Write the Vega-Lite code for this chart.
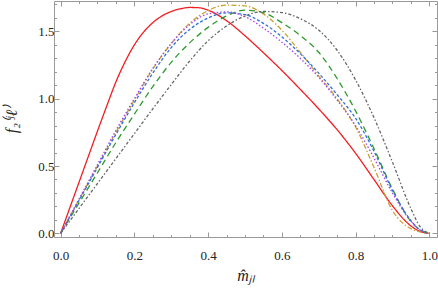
{
  "$schema": "https://vega.github.io/schema/vega-lite/v6.json",
  "width": 383,
  "height": 236,
  "autosize": {"type": "none"},
  "padding": {"left": 54, "top": 1, "right": 1, "bottom": 52},
  "background": "white",
  "config": {
    "view": {"stroke": null},
    "axis": {
      "labelFont": "Liberation Serif",
      "labelFontSize": 13,
      "labelColor": "#222",
      "titleFont": "Liberation Serif",
      "titleFontStyle": "italic",
      "titleFontWeight": "normal",
      "titleFontSize": 16,
      "titleColor": "#222",
      "domainColor": "#999",
      "tickColor": "#999",
      "grid": false
    }
  },
  "datasets": {
    "curves": [
      {"s": "A", "x": 0, "y": 0}, {"s": "A", "x": 0.025, "y": 0.19}, {"s": "A", "x": 0.05, "y": 0.38}, {"s": "A", "x": 0.075, "y": 0.57}, {"s": "A", "x": 0.1, "y": 0.76}, {"s": "A", "x": 0.125, "y": 0.945}, {"s": "A", "x": 0.15, "y": 1.125}, {"s": "A", "x": 0.175, "y": 1.275}, {"s": "A", "x": 0.2, "y": 1.4}, {"s": "A", "x": 0.225, "y": 1.495}, {"s": "A", "x": 0.25, "y": 1.565}, {"s": "A", "x": 0.275, "y": 1.615}, {"s": "A", "x": 0.3, "y": 1.648}, {"s": "A", "x": 0.325, "y": 1.668}, {"s": "A", "x": 0.35, "y": 1.678}, {"s": "A", "x": 0.375, "y": 1.676}, {"s": "A", "x": 0.4, "y": 1.658}, {"s": "A", "x": 0.45, "y": 1.58}, {"s": "A", "x": 0.5, "y": 1.468}, {"s": "A", "x": 0.55, "y": 1.342}, {"s": "A", "x": 0.6, "y": 1.21}, {"s": "A", "x": 0.65, "y": 1.07}, {"s": "A", "x": 0.7, "y": 0.925}, {"s": "A", "x": 0.75, "y": 0.77}, {"s": "A", "x": 0.8, "y": 0.595}, {"s": "A", "x": 0.85, "y": 0.4}, {"s": "A", "x": 0.9, "y": 0.205}, {"s": "A", "x": 0.95, "y": 0.055}, {"s": "A", "x": 0.975, "y": 0.014}, {"s": "A", "x": 1, "y": 0},

      {"s": "B", "x": 0, "y": 0}, {"s": "B", "x": 0.05, "y": 0.25}, {"s": "B", "x": 0.1, "y": 0.5}, {"s": "B", "x": 0.15, "y": 0.75}, {"s": "B", "x": 0.2, "y": 0.99}, {"s": "B", "x": 0.25, "y": 1.22}, {"s": "B", "x": 0.3, "y": 1.41}, {"s": "B", "x": 0.35, "y": 1.56}, {"s": "B", "x": 0.4, "y": 1.655}, {"s": "B", "x": 0.45, "y": 1.695}, {"s": "B", "x": 0.5, "y": 1.69}, {"s": "B", "x": 0.55, "y": 1.63}, {"s": "B", "x": 0.6, "y": 1.51}, {"s": "B", "x": 0.65, "y": 1.345}, {"s": "B", "x": 0.7, "y": 1.17}, {"s": "B", "x": 0.75, "y": 1.0}, {"s": "B", "x": 0.8, "y": 0.79}, {"s": "B", "x": 0.85, "y": 0.49}, {"s": "B", "x": 0.9, "y": 0.17}, {"s": "B", "x": 0.95, "y": 0.035}, {"s": "B", "x": 0.975, "y": 0.01}, {"s": "B", "x": 1, "y": 0},

      {"s": "C", "x": 0, "y": 0}, {"s": "C", "x": 0.05, "y": 0.225}, {"s": "C", "x": 0.1, "y": 0.45}, {"s": "C", "x": 0.15, "y": 0.675}, {"s": "C", "x": 0.2, "y": 0.885}, {"s": "C", "x": 0.25, "y": 1.09}, {"s": "C", "x": 0.3, "y": 1.27}, {"s": "C", "x": 0.35, "y": 1.415}, {"s": "C", "x": 0.4, "y": 1.53}, {"s": "C", "x": 0.45, "y": 1.615}, {"s": "C", "x": 0.5, "y": 1.658}, {"s": "C", "x": 0.55, "y": 1.64}, {"s": "C", "x": 0.6, "y": 1.565}, {"s": "C", "x": 0.65, "y": 1.47}, {"s": "C", "x": 0.7, "y": 1.345}, {"s": "C", "x": 0.75, "y": 1.15}, {"s": "C", "x": 0.8, "y": 0.91}, {"s": "C", "x": 0.85, "y": 0.63}, {"s": "C", "x": 0.9, "y": 0.33}, {"s": "C", "x": 0.95, "y": 0.09}, {"s": "C", "x": 0.975, "y": 0.025}, {"s": "C", "x": 1, "y": 0},

      {"s": "D", "x": 0, "y": 0}, {"s": "D", "x": 0.05, "y": 0.245}, {"s": "D", "x": 0.1, "y": 0.49}, {"s": "D", "x": 0.15, "y": 0.735}, {"s": "D", "x": 0.2, "y": 0.97}, {"s": "D", "x": 0.25, "y": 1.19}, {"s": "D", "x": 0.3, "y": 1.38}, {"s": "D", "x": 0.35, "y": 1.515}, {"s": "D", "x": 0.4, "y": 1.6}, {"s": "D", "x": 0.45, "y": 1.638}, {"s": "D", "x": 0.5, "y": 1.625}, {"s": "D", "x": 0.55, "y": 1.56}, {"s": "D", "x": 0.6, "y": 1.46}, {"s": "D", "x": 0.65, "y": 1.335}, {"s": "D", "x": 0.7, "y": 1.19}, {"s": "D", "x": 0.75, "y": 1.03}, {"s": "D", "x": 0.8, "y": 0.855}, {"s": "D", "x": 0.85, "y": 0.61}, {"s": "D", "x": 0.9, "y": 0.32}, {"s": "D", "x": 0.95, "y": 0.095}, {"s": "D", "x": 0.975, "y": 0.025}, {"s": "D", "x": 1, "y": 0},

      {"s": "E", "x": 0, "y": 0}, {"s": "E", "x": 0.05, "y": 0.255}, {"s": "E", "x": 0.1, "y": 0.51}, {"s": "E", "x": 0.15, "y": 0.765}, {"s": "E", "x": 0.2, "y": 1.0}, {"s": "E", "x": 0.25, "y": 1.225}, {"s": "E", "x": 0.3, "y": 1.41}, {"s": "E", "x": 0.35, "y": 1.55}, {"s": "E", "x": 0.4, "y": 1.63}, {"s": "E", "x": 0.45, "y": 1.645}, {"s": "E", "x": 0.5, "y": 1.61}, {"s": "E", "x": 0.55, "y": 1.525}, {"s": "E", "x": 0.6, "y": 1.42}, {"s": "E", "x": 0.65, "y": 1.3}, {"s": "E", "x": 0.7, "y": 1.16}, {"s": "E", "x": 0.75, "y": 0.99}, {"s": "E", "x": 0.8, "y": 0.8}, {"s": "E", "x": 0.85, "y": 0.56}, {"s": "E", "x": 0.9, "y": 0.3}, {"s": "E", "x": 0.95, "y": 0.09}, {"s": "E", "x": 0.975, "y": 0.025}, {"s": "E", "x": 1, "y": 0},

      {"s": "F", "x": 0, "y": 0}, {"s": "F", "x": 0.05, "y": 0.185}, {"s": "F", "x": 0.1, "y": 0.37}, {"s": "F", "x": 0.15, "y": 0.555}, {"s": "F", "x": 0.2, "y": 0.74}, {"s": "F", "x": 0.25, "y": 0.925}, {"s": "F", "x": 0.3, "y": 1.105}, {"s": "F", "x": 0.35, "y": 1.28}, {"s": "F", "x": 0.4, "y": 1.43}, {"s": "F", "x": 0.45, "y": 1.54}, {"s": "F", "x": 0.5, "y": 1.615}, {"s": "F", "x": 0.55, "y": 1.648}, {"s": "F", "x": 0.6, "y": 1.64}, {"s": "F", "x": 0.65, "y": 1.595}, {"s": "F", "x": 0.7, "y": 1.51}, {"s": "F", "x": 0.75, "y": 1.36}, {"s": "F", "x": 0.8, "y": 1.14}, {"s": "F", "x": 0.85, "y": 0.86}, {"s": "F", "x": 0.9, "y": 0.53}, {"s": "F", "x": 0.95, "y": 0.185}, {"s": "F", "x": 0.975, "y": 0.05}, {"s": "F", "x": 1, "y": 0}
    ]
  },
  "data": {"name": "curves"},
  "resolve": {"axis": {"x": "independent", "y": "independent"}},
  "layer": [
    {
      "mark": {"type": "line", "interpolate": "monotone", "strokeWidth": 1.3},
      "encoding": {
        "x": {
          "field": "x", "type": "quantitative",
          "scale": {"domain": [-0.018, 1.021], "nice": false, "zero": false},
          "axis": {
            "orient": "bottom",
            "title": "m̂ⱼₗ",
            "titlePadding": 5,
            "values": [0, 0.05, 0.1, 0.15, 0.2, 0.25, 0.3, 0.35, 0.4, 0.45, 0.5, 0.55, 0.6, 0.65, 0.7, 0.75, 0.8, 0.85, 0.9, 0.95, 1.0],
            "labelExpr": "abs(datum.value*5 - round(datum.value*5)) < 0.001 ? format(datum.value, '.1f') : ''",
            "tickSize": {"condition": {"test": "abs(datum.value*5 - round(datum.value*5)) < 0.001", "value": -5}, "value": -2.5},
            "labelPadding": 14,
            "labelBaseline": "line-top",
            "labelLineHeight": 18,
            "labelFlush": false
          }
        },
        "y": {
          "field": "y", "type": "quantitative",
          "scale": {"domain": [-0.0275, 1.726], "nice": false, "zero": false},
          "axis": {
            "orient": "left",
            "title": "f₂⁽ʲℓ⁾",
            "titlePadding": 18,
            "values": [0, 0.1, 0.2, 0.3, 0.4, 0.5, 0.6, 0.7, 0.8, 0.9, 1.0, 1.1, 1.2, 1.3, 1.4, 1.5, 1.6, 1.7],
            "labelExpr": "abs(datum.value*2 - round(datum.value*2)) < 0.001 ? format(datum.value, '.1f') : ''",
            "tickSize": {"condition": {"test": "abs(datum.value*2 - round(datum.value*2)) < 0.001", "value": -5}, "value": -2.5},
            "labelPadding": 5,
            "labelFlush": false
          }
        },
        "color": {
          "field": "s", "type": "nominal", "legend": null,
          "scale": {"domain": ["A", "B", "C", "D", "E", "F"], "range": ["#f01e23", "#c9a030", "#2e9a2e", "#2f6fd8", "#a446e6", "#666666"]}
        },
        "strokeDash": {
          "field": "s", "type": "nominal", "legend": null,
          "scale": {"domain": ["A", "B", "C", "D", "E", "F"], "range": [[1, 0], [5, 2, 1.5, 2], [6, 4], [3, 2], [1.5, 2], [3, 2, 1.5, 2]]}
        },
        "detail": {"field": "s"}
      }
    },
    {
      "mark": {"type": "line", "opacity": 0},
      "encoding": {
        "x": {
          "field": "x", "type": "quantitative",
          "scale": {"domain": [-0.018, 1.021], "nice": false, "zero": false},
          "axis": {
            "orient": "top", "title": null, "labels": false,
            "values": [0, 0.05, 0.1, 0.15, 0.2, 0.25, 0.3, 0.35, 0.4, 0.45, 0.5, 0.55, 0.6, 0.65, 0.7, 0.75, 0.8, 0.85, 0.9, 0.95, 1.0],
            "tickSize": {"condition": {"test": "abs(datum.value*5 - round(datum.value*5)) < 0.001", "value": -5}, "value": -2.5}
          }
        },
        "y": {
          "field": "y", "type": "quantitative",
          "scale": {"domain": [-0.0275, 1.726], "nice": false, "zero": false},
          "axis": {
            "orient": "right", "title": null, "labels": false,
            "values": [0, 0.1, 0.2, 0.3, 0.4, 0.5, 0.6, 0.7, 0.8, 0.9, 1.0, 1.1, 1.2, 1.3, 1.4, 1.5, 1.6, 1.7],
            "tickSize": {"condition": {"test": "abs(datum.value*2 - round(datum.value*2)) < 0.001", "value": -5}, "value": -2.5}
          }
        },
        "detail": {"field": "s"}
      }
    }
  ]
}
